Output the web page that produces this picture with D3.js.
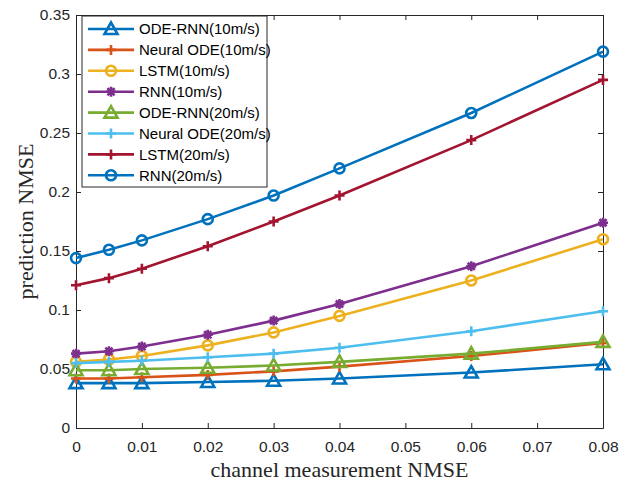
<!DOCTYPE html>
<html>
<head>
<meta charset="utf-8">
<script src="https://cdn.jsdelivr.net/npm/d3@7"></script>
<style>
  body { margin: 0; background: #fff; }
  svg { display: block; }
</style>
</head>
<body>
<svg id="chart"></svg>
<script>
var xValues = [0, 0.005, 0.01, 0.02, 0.03, 0.04, 0.06, 0.08];
var seriesNames = ['ODE-RNN(10m/s)', 'Neural ODE(10m/s)', 'LSTM(10m/s)', 'RNN(10m/s)',
  'ODE-RNN(20m/s)', 'Neural ODE(20m/s)', 'LSTM(20m/s)', 'RNN(20m/s)'];
var odeRnn10 = [0.038, 0.038, 0.038, 0.039, 0.040, 0.042, 0.047, 0.054];
var neuralOde10 = [0.042, 0.042, 0.043, 0.045, 0.048, 0.052, 0.061, 0.072];
var lstm10 = [0.056, 0.058, 0.061, 0.070, 0.081, 0.095, 0.125, 0.160];
var rnn10 = [0.063, 0.065, 0.069, 0.079, 0.091, 0.105, 0.137, 0.174];
var odeRnn20 = [0.049, 0.049, 0.050, 0.051, 0.053, 0.056, 0.063, 0.073];
var neuralOde20 = [0.055, 0.056, 0.057, 0.060, 0.063, 0.068, 0.082, 0.099];
var lstm20 = [0.121, 0.127, 0.135, 0.154, 0.175, 0.197, 0.244, 0.295];
var rnn20 = [0.144, 0.151, 0.159, 0.177, 0.197, 0.220, 0.267, 0.319];
var xTicks = [0, 0.01, 0.02, 0.03, 0.04, 0.05, 0.06, 0.07, 0.08];
var yTicks = [0, 0.05, 0.1, 0.15, 0.2, 0.25, 0.3, 0.35];

var seriesValues = [odeRnn10, neuralOde10, lstm10, rnn10, odeRnn20, neuralOde20, lstm20, rnn20];
var colors = ['#0072BD', '#D95319', '#EDB120', '#7E2F8E', '#77AC30', '#4DBEEE', '#A2142F', '#0072BD'];
var markers = ['triangle', 'plus', 'circle', 'star', 'triangle', 'plus', 'plus', 'circle'];

var width = 631, height = 483;
var margin = {left: 76, right: 28, top: 15, bottom: 55};
var axisColor = '#262626';
var lw = 2.6;

var svg = d3.select('#chart')
  .attr('width', width)
  .attr('height', height);

var x = d3.scaleLinear().domain([0, 0.08]).range([margin.left, width - margin.right]);
var y = d3.scaleLinear().domain([0, 0.35]).range([height - margin.bottom, margin.top]);

function tickFmt(d) { return d === 0 ? '0' : String(+d.toFixed(3)); }

function styleAxis(g, hideText) {
  g.select('.domain').attr('stroke', axisColor);
  g.selectAll('.tick line').attr('stroke', axisColor);
  g.selectAll('.tick text')
    .attr('fill', axisColor)
    .style('font-family', 'Liberation Sans, Arial, sans-serif')
    .style('font-size', '15.5px');
  if (hideText) g.selectAll('.tick text').remove();
}

svg.append('g')
  .attr('transform', 'translate(0,' + y(0) + ')')
  .call(d3.axisBottom(x).tickValues(xTicks).tickFormat(tickFmt).tickSizeInner(-5).tickSizeOuter(0).tickPadding(13))
  .call(styleAxis, false);
svg.append('g')
  .attr('transform', 'translate(0,' + y(0.35) + ')')
  .call(d3.axisTop(x).tickValues(xTicks).tickSizeInner(-5).tickSizeOuter(0))
  .call(styleAxis, true);
svg.append('g')
  .attr('transform', 'translate(' + x(0) + ',0)')
  .call(d3.axisLeft(y).tickValues(yTicks).tickFormat(tickFmt).tickSizeInner(-5).tickSizeOuter(0).tickPadding(6))
  .call(styleAxis, false);
svg.append('g')
  .attr('transform', 'translate(' + x(0.08) + ',0)')
  .call(d3.axisRight(y).tickValues(yTicks).tickSizeInner(-5).tickSizeOuter(0))
  .call(styleAxis, true);

function drawMarker(g, type, color) {
  if (type === 'triangle') {
    g.append('path').attr('d', 'M0,-6.5L6.5,5L-6.5,5Z')
      .attr('fill', 'none').attr('stroke', color).attr('stroke-width', lw).attr('stroke-linejoin', 'miter');
  } else if (type === 'plus') {
    g.append('path').attr('d', 'M-5,0H5M0,-5V5')
      .attr('stroke', color).attr('stroke-width', lw);
  } else if (type === 'circle') {
    g.append('circle').attr('r', 5)
      .attr('fill', 'none').attr('stroke', color).attr('stroke-width', lw);
  } else if (type === 'star') {
    g.append('path').attr('d', 'M-5,0H5M0,-5V5M-3.6,-3.6L3.6,3.6M-3.6,3.6L3.6,-3.6')
      .attr('stroke', color).attr('stroke-width', lw);
  }
}

var line = d3.line()
  .x(function (d, i) { return x(xValues[i]); })
  .y(function (d) { return y(d); });

var plot = svg.append('g').attr('class', 'series');
seriesValues.forEach(function (vals, k) {
  plot.append('path')
    .attr('d', line(vals))
    .attr('fill', 'none')
    .attr('stroke', colors[k])
    .attr('stroke-width', lw);
  vals.forEach(function (v, i) {
    var m = plot.append('g').attr('transform', 'translate(' + x(xValues[i]) + ',' + y(v) + ')');
    drawMarker(m, markers[k], colors[k]);
  });
});

// legend
var leg = svg.append('g').attr('class', 'legend');
leg.append('rect')
  .attr('x', 82).attr('y', 16)
  .attr('width', 185).attr('height', 171)
  .attr('fill', '#fff').attr('stroke', axisColor).attr('stroke-width', 1);
seriesNames.forEach(function (name, k) {
  var ly = 29 + k * 20.9;
  leg.append('line')
    .attr('x1', 88).attr('x2', 134).attr('y1', ly).attr('y2', ly)
    .attr('stroke', colors[k]).attr('stroke-width', lw);
  var m = leg.append('g').attr('transform', 'translate(111,' + ly + ')');
  drawMarker(m, markers[k], colors[k]);
  leg.append('text')
    .attr('x', 139).attr('y', ly)
    .attr('dy', '0.35em')
    .attr('fill', '#000')
    .style('font-family', 'Liberation Sans, Arial, sans-serif')
    .style('font-size', '15px')
    .text(name);
});

svg.append('text')
  .attr('x', (x(0) + x(0.08)) / 2)
  .attr('y', 477)
  .attr('text-anchor', 'middle')
  .attr('fill', axisColor)
  .style('font-family', 'Liberation Serif, Times New Roman, serif')
  .style('font-size', '22px')
  .text('channel measurement NMSE');

svg.append('text')
  .attr('transform', 'translate(33,' + (y(0.175)) + ') rotate(-90)')
  .attr('text-anchor', 'middle')
  .attr('fill', axisColor)
  .style('font-family', 'Liberation Serif, Times New Roman, serif')
  .style('font-size', '22px')
  .text('prediction NMSE');
</script>
</body>
</html>
